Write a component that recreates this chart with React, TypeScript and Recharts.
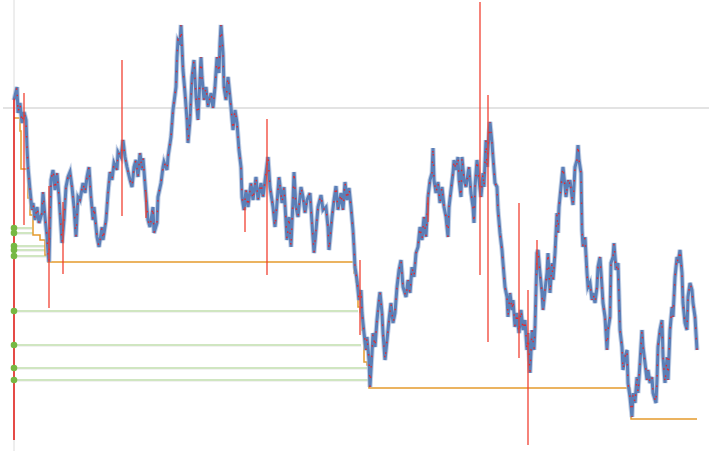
import React from "react";
import { ComposedChart, Line, XAxis, YAxis, ReferenceLine, ReferenceDot } from "recharts";

const days = [
  0,3,4,6,8,10,12,13,14,16,18,19,21,23,25,28,29,31,33,34,35,37,39,41,43,45,47,48,50,52,54,56,58,60,62,64,66,69,71,73,75,77,79,80,83,85,88,89,92,94,96,98,100,103,104,107,109,111,113,116,118,120,122,124,126,128,129,132,134,136,139,140,143,144,147,149,150,153,154,157,159,162,163,164,166,167,168,169,171,173,174,176,178,180,182,184,187,188,190,192,194,197,199,201,203,205,206,207,209,210,212,214,217,219,221,223,225,227,228,230,232,234,237,239,242,244,247,249,252,254,256,259,261,263,265,268,270,273,275,277,279,280,282,284,287,289,291,293,296,298,300,302,304,307,309,312,314,315,318,320,322,324,327,329,331,333,335,337,339,340,341,343,345,347,348,350,352,353,355,356,358,359,361,363,365,366,368,369,371,373,375,377,379,381,383,385,387,389,392,394,396,398,400,402,404,406,408,410,412,414,416,418,419,420,422,424,426,428,430,432,434,435,437,439,440,442,444,445,447,448,450,452,454,455,457,459,460,461,463,465,467,469,470,472,473,475,476,478,479,481,483,484,486,488,489,491,493,494,496,498,499,501,503,505,507,509,511,513,514,516,518,520,521,523,524,526,528,529,531,533,534,536,538,539,541,543,544,545,547,549,550,552,554,555,556,558,559,561,563,564,565,567,568,569,571,573,574,576,578,579,581,583,584,586,588,589,591,593,594,596,597,599,600,602,604,605,606,608,609,611,613,614,616,618,619,621,623,624,626,628,629,631,633,634,636,638,639,642,643,644,646,648,649,651,653,654,656,658,659,661,663,664,666,668,669,671,673,674,676,678,679,681,683
];
const price = [
  400,413,387,397,377,388,380,353,333,310,290,297,280,293,277,287,308,283,263,247,238,320,330,310,327,303,273,257,280,313,323,328,313,293,263,303,300,317,307,323,333,303,280,293,263,253,273,260,280,307,328,320,337,330,348,343,360,343,333,320,313,333,340,323,347,330,342,303,280,273,293,267,277,303,317,333,338,330,343,363,390,413,443,460,457,475,453,430,407,380,357,380,423,440,403,380,443,423,400,413,393,407,392,413,443,427,457,475,447,413,400,423,393,370,390,377,350,333,303,290,310,293,317,300,323,300,317,303,327,343,313,293,273,297,323,297,313,260,283,253,300,328,293,283,313,303,287,300,307,277,247,270,293,305,290,293,273,250,283,300,314,290,307,290,318,300,312,293,270,253,233,220,200,210,187,167,150,163,140,113,147,167,153,180,200,208,187,167,140,160,180,197,177,187,213,230,240,213,203,220,207,233,223,247,253,273,260,283,263,303,320,327,352,320,307,318,297,313,293,283,263,293,310,327,340,330,343,320,303,343,320,313,327,333,307,293,277,313,340,320,303,327,313,360,333,367,378,357,343,317,313,290,267,250,237,213,203,183,207,190,200,173,187,167,190,170,180,150,167,127,170,150,173,247,250,227,207,190,210,227,247,207,237,220,247,287,267,293,313,333,323,303,320,313,320,303,295,333,340,355,340,327,270,253,263,227,213,217,200,207,197,213,233,243,213,197,183,150,170,183,237,243,257,230,237,203,170,153,130,143,150,117,103,83,107,97,123,107,137,170,153,137,120,130,117,123,107,97,120,153,170,180,143,117,143,120,170,193,183,223,243,237,250,227,197,177,170,203,217,210,197,183,150
];

const floorDays = [0, 6, 7, 14, 16, 19, 26, 31, 34, 340, 342, 344, 346, 348, 350, 353, 355, 616, 617, 683];
const floorValues = [382, 369, 331, 302, 285, 265, 260, 245, 238, 227, 218, 193, 188, 170, 138, 135, 112, 102, 81, 81];

const levelValues = [272, 267, 254, 250, 244, 189, 155, 132, 120];
const levelHitDays = [18, 19, 31, 31, 33, 344, 347, 353, 354];

const spikeDays = [10, 35, 49, 108, 132, 231, 253, 346, 414, 466, 474, 505, 514, 523];
const spikeHighs = [407, 314, 298, 440, 308, 293, 381, 240, 303, 498, 405, 297, 210, 260];
const spikeLows = [275, 192, 226, 284, 282, 268, 225, 165, 278, 225, 158, 142, 55, 230];

const startDay = 0;
const startHigh = 400;
const startLow = 60;
const referenceLevel = 392;

const priceData = days.map((d, i) => ({ day: d, price: price[i] }));
const floorData = floorDays.map((d, i) => ({ day: d, floor: floorValues[i] }));

export default function App() {
  return (
    <div style={{ position: "absolute", left: 0, top: 0, width: 709, height: 451, background: "#fff" }}>
      <ComposedChart width={709} height={451} margin={{ top: 0, right: 12, bottom: 0, left: 14 }}>
        <XAxis type="number" dataKey="day" domain={[0, 683]} hide />
        <YAxis type="number" domain={[49, 500]} hide />
        <ReferenceLine segment={[{ x: -11, y: referenceLevel }, { x: 695, y: referenceLevel }]} stroke="#e3e3e3" strokeWidth={2} ifOverflow="visible" />
        <ReferenceLine x={startDay} stroke="#dcdcdc" strokeWidth={1} />
        {levelValues.map((v, i) => (
          <ReferenceLine key={"ls" + i} segment={[{ x: startDay, y: v - 0.8 }, { x: levelHitDays[i], y: v - 0.8 }]} stroke="#ececec" strokeWidth={2} />
        ))}
        {levelValues.map((v, i) => (
          <ReferenceLine key={"lv" + i} segment={[{ x: startDay, y: v }, { x: levelHitDays[i], y: v }]} stroke="#d0e6c1" strokeWidth={2} />
        ))}
        <Line data={floorData} dataKey="floor" type="stepAfter" stroke="#e59a2c" strokeWidth={1.5} dot={false} isAnimationActive={false} />
        <Line data={priceData} dataKey="price" type="linear" stroke="#a9bcdc" strokeWidth={5} strokeOpacity={0.7} dot={false} isAnimationActive={false} />
        <Line data={priceData} dataKey="price" type="linear" stroke="#5b7fb7" strokeWidth={3} dot={false} isAnimationActive={false} />
        <Line data={priceData} dataKey="price" type="linear" stroke="#e8262a" strokeWidth={1.4} strokeDasharray="1.5 9" dot={false} isAnimationActive={false} />
        {spikeDays.map((d, i) => (
          <ReferenceLine key={"sp" + i} segment={[{ x: d, y: spikeLows[i] }, { x: d, y: spikeHighs[i] }]} stroke="#ef3b2c" strokeWidth={1.4} strokeOpacity={0.9} />
        ))}
        <ReferenceLine segment={[{ x: startDay, y: startLow }, { x: startDay, y: startHigh }]} stroke="#e3211c" strokeWidth={1.6} />
        {levelValues.map((v, i) => (
          <ReferenceDot key={"ld" + i} x={startDay} y={v} r={3.3} fill="#76b843" stroke="none" ifOverflow="visible" />
        ))}
      </ComposedChart>
    </div>
  );
}
